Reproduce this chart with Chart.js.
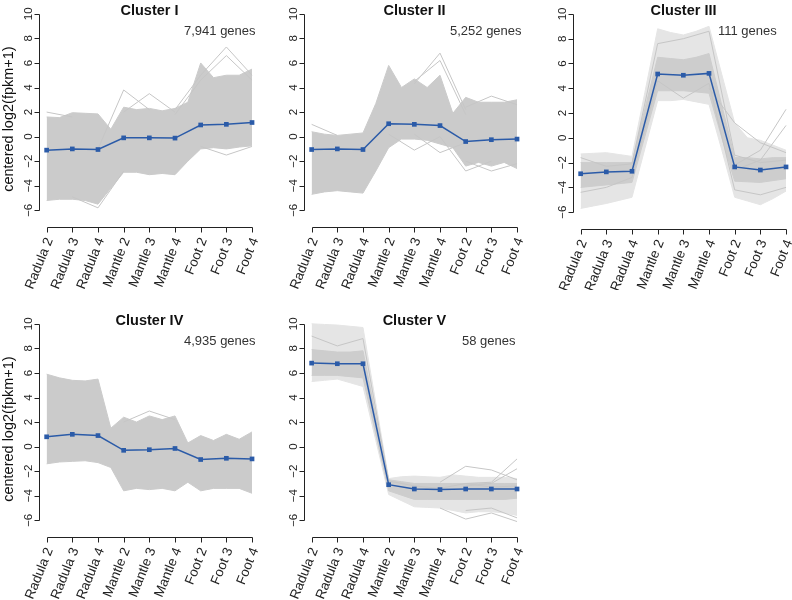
<!doctype html>
<html lang="en">
<head>
<meta charset="UTF-8" />
<title>Cluster expression profiles</title>
<style>
  html, body { margin: 0; padding: 0; background: #fff; overflow: hidden; }
  #wrap { position: relative; width: 792px; height: 600px; overflow: hidden; }
  #wrap canvas { position: absolute; }
</style>
</head>
<body>
<div id="wrap"></div>
<script src="https://cdn.jsdelivr.net/npm/chart.js"></script>
<script>
  // categories and ticks
  const tissues = ['Radula 2', 'Radula 3', 'Radula 4', 'Mantle 2', 'Mantle 3', 'Mantle 4', 'Foot 2', 'Foot 3', 'Foot 4'];
  const yTicks = [-6, -4, -2, 0, 2, 4, 6, 8, 10];
  // band outline is read at each sample and halfway between samples
  const bandX = [1, 1.5, 2, 2.5, 3, 3.5, 4, 4.5, 5, 5.5, 6, 6.5, 7, 7.5, 8, 8.5, 9];

  // Cluster I
  const c1Mean = [-1.1, -1.0, -1.05, -0.1, -0.1, -0.12, 0.95, 1.0, 1.15];
  const c1Hi = [1.6, 1.55, 1.95, 1.9, 1.85, 0.6, 2.4, 2.2, 2.3, 2.1, 2.3, 2.8, 6.0, 4.8, 5.0, 5.0, 5.5];
  const c1Lo = [-5.2, -5.1, -5.1, -5.2, -5.5, -4.2, -2.9, -2.9, -3.1, -3.0, -3.1, -2.0, -1.0, -0.9, -1.0, -0.85, -0.75];
  const c1Spikes = [
    [2.0, 1.6, null, null, null, null, null, null, null],
    [null, null, -1.0, 3.8, 2.2, null, null, null, null],
    [null, null, null, 2.0, 3.5, 2.0, null, null, null],
    [null, null, null, null, null, 2.2, 5.0, 7.3, 5.0],
    [null, null, null, null, null, 1.8, 4.6, 6.6, 4.6],
    [null, -4.9, -5.8, -2.8, null, null, null, null, null],
    [null, null, null, null, null, null, -0.8, -1.5, -0.8]
  ];

  // Cluster II
  const c2Mean = [-1.05, -1.0, -1.05, 1.05, 1.0, 0.9, -0.4, -0.25, -0.2];
  const c2Hi = [0.4, 0.2, 0.1, 0.2, 0.3, 2.7, 5.8, 4.0, 4.7, 4.0, 5.0, 1.9, 3.2, 2.8, 2.8, 2.8, 3.0];
  const c2Lo = [-4.7, -4.5, -4.4, -4.5, -4.6, -2.8, -0.9, -0.2, -0.2, -0.3, -0.6, -0.9, -2.4, -2.1, -2.4, -2.1, -2.6];
  const c2Spikes = [
    [1.0, 0.1, null, null, null, null, null, null, null],
    [null, null, null, null, 4.3, 6.8, 2.2, null, null],
    [null, null, null, null, 4.5, 6.2, 1.8, null, null],
    [null, null, null, 0.2, -1.1, 0.0, null, null, null],
    [null, null, null, null, 0.2, -1.3, -0.5, null, null],
    [null, null, null, null, null, 0.0, -2.8, -2.0, null],
    [null, null, null, null, null, null, -2.0, -2.8, -2.2],
    [null, null, null, null, null, null, 2.4, 3.3, 2.6]
  ];

  // Cluster III
  const c3Mean = [-2.9, -2.75, -2.7, 5.15, 5.05, 5.2, -2.35, -2.6, -2.35];
  const c3Hi = [-1.3, -1.25, -1.2, -1.35, -1.5, 3.65, 8.8, 8.5, 8.3, 8.6, 9.0, 5.1, 1.2, 0.0, -0.2, -0.6, -1.0];
  const c3Lo = [-5.7, -5.5, -5.3, -5.05, -4.8, -0.9, 3.0, 3.0, 3.1, 2.9, 2.7, -1.0, -4.8, -5.1, -5.4, -4.9, -4.3];
  const c3CoreHi = [-2.0, -2.0, -2.0, -2.0, -2.0, 2.3, 6.5, 6.4, 6.3, 6.5, 6.8, 2.6, -1.6, -1.6, -1.7, -1.6, -1.6];
  const c3CoreLo = [-4.0, -3.9, -3.8, -3.7, -3.6, 0.1, 3.8, 3.8, 3.8, 3.7, 3.6, 0.0, -3.5, -3.55, -3.6, -3.45, -3.3];
  const c3Spikes = [
    [null, null, null, null, null, null, -2.2, -1.0, 2.3],
    [null, null, null, null, null, null, -2.6, -1.8, 1.0],
    [null, null, null, null, null, 4.0, 1.2, -0.4, -1.2],
    [-1.6, -2.3, -2.1, 7.6, 8.0, 8.6, -1.4, -2.0, -1.8],
    [-4.4, -4.0, -3.2, 4.6, 3.2, 4.4, -4.2, -4.6, -4.0]
  ];

  // Cluster IV
  const c4Mean = [0.8, 1.0, 0.9, -0.3, -0.25, -0.15, -1.05, -0.95, -1.0];
  const c4Hi = [5.9, 5.6, 5.4, 5.35, 5.5, 1.5, 2.4, 2.0, 2.5, 2.2, 2.5, 0.3, 0.9, 0.5, 1.0, 0.6, 1.2];
  const c4Lo = [-1.4, -1.25, -1.2, -1.15, -1.3, -1.7, -3.6, -3.4, -3.5, -3.4, -3.6, -2.9, -3.6, -3.4, -3.4, -3.4, -3.8];
  const c4Spikes = [
    [null, null, null, 2.0, 2.9, 2.2, null, null, null]
  ];

  // Cluster V
  const c5Mean = [6.8, 6.75, 6.75, -3.1, -3.45, -3.5, -3.45, -3.45, -3.45];
  const c5Hi = [10.0, 9.95, 9.9, 9.8, 9.7, 3.55, -2.6, -2.45, -2.4, -2.45, -2.5, -2.3, -2.4, -2.5, -2.5, -2.5, -2.6];
  const c5Lo = [5.3, 5.4, 5.5, 5.2, 4.9, 0.5, -3.9, -4.4, -4.9, -4.95, -5.0, -5.2, -5.4, -5.3, -5.3, -5.4, -5.6];
  const c5CoreHi = [7.9, 7.8, 7.7, 7.7, 7.8, 2.5, -2.7, -2.85, -3.0, -3.0, -3.0, -3.0, -3.0, -3.0, -3.0, -3.0, -3.0];
  const c5CoreLo = [5.8, 5.8, 5.8, 5.7, 5.6, 1.0, -3.6, -3.95, -4.3, -4.3, -4.3, -4.3, -4.3, -4.3, -4.3, -4.3, -4.2];
  const c5Spikes = [
    [null, null, null, null, null, -2.9, -1.6, -1.9, -2.7],
    [null, null, null, null, null, null, -3.0, -2.9, -1.0],
    [null, null, null, null, null, null, -3.2, -3.0, -1.8],
    [null, null, null, null, null, -5.0, -5.9, -5.4, -6.1],
    [null, null, null, null, null, null, -5.2, -5.0, -5.8],
    [9.0, 8.2, 8.8, -2.8, -3.2, -3.4, -3.0, -3.3, -3.2]
  ];

  const panels = [
    { title: 'Cluster I', genes: '7,941 genes', left: 0, top: 0, genesX: 184, yLabel: true,
      mean: c1Mean, hi: c1Hi, lo: c1Lo, spikes: c1Spikes },
    { title: 'Cluster II', genes: '5,252 genes', left: 265, top: 0, genesX: 185, yLabel: false,
      mean: c2Mean, hi: c2Hi, lo: c2Lo, spikes: c2Spikes },
    { title: 'Cluster III', genes: '111 genes', left: 534, top: 0, genesX: 184, yLabel: false, axisY: 230,
      mean: c3Mean, hi: c3Hi, lo: c3Lo, coreHi: c3CoreHi, coreLo: c3CoreLo, spikes: c3Spikes },
    { title: 'Cluster IV', genes: '4,935 genes', left: 0, top: 310, genesX: 184, yLabel: true,
      mean: c4Mean, hi: c4Hi, lo: c4Lo, spikes: c4Spikes },
    { title: 'Cluster V', genes: '58 genes', left: 265, top: 310, genesX: 197, yLabel: false,
      mean: c5Mean, hi: c5Hi, lo: c5Lo, coreHi: c5CoreHi, coreLo: c5CoreLo, spikes: c5Spikes }
  ];

  const W = 264, H = 290;
  const BLUE = '#2b5ba8';
  const FONT = '"Liberation Sans", Arial, Helvetica, sans-serif';

  // R-style detached axes, titles and labels
  const rAxes = {
    id: 'rAxes',
    afterDraw(chart) {
      const { ctx, chartArea: a, scales: { x, y } } = chart;
      const p = chart.options.plugins.rAxes;
      ctx.save();
      ctx.strokeStyle = '#222';
      ctx.fillStyle = '#222';
      ctx.lineWidth = 1;

      // y axis
      const ax = Math.round(a.left) + 0.5;
      const yTop = Math.round(y.getPixelForValue(yTicks[yTicks.length - 1])) + 0.5;
      const yBot = Math.round(y.getPixelForValue(yTicks[0])) + 0.5;
      ctx.beginPath();
      ctx.moveTo(ax, yTop);
      ctx.lineTo(ax, yBot);
      yTicks.forEach(v => {
        const py = Math.round(y.getPixelForValue(v)) + 0.5;
        ctx.moveTo(ax, py);
        ctx.lineTo(ax - 5, py);
      });
      ctx.stroke();
      ctx.font = '11.5px ' + FONT;
      ctx.textAlign = 'center';
      ctx.textBaseline = 'alphabetic';
      yTicks.forEach(v => {
        const py = y.getPixelForValue(v);
        ctx.save();
        ctx.translate(ax - 8, py);
        ctx.rotate(-Math.PI / 2);
        ctx.fillText(v < 0 ? '\u2212' + Math.abs(v) : String(v), 0, 0);
        ctx.restore();
      });

      // x axis
      const by = Math.round(a.bottom) - 0.5;
      const x0 = Math.round(x.getPixelForValue(1)) + 0.5;
      const x1 = Math.round(x.getPixelForValue(tissues.length)) + 0.5;
      ctx.beginPath();
      ctx.moveTo(x0, by);
      ctx.lineTo(x1, by);
      tissues.forEach((t, i) => {
        const px = Math.round(x.getPixelForValue(i + 1)) + 0.5;
        ctx.moveTo(px, by);
        ctx.lineTo(px, by + 5);
      });
      ctx.stroke();
      ctx.font = '13.5px ' + FONT;
      ctx.textAlign = 'right';
      ctx.textBaseline = 'middle';
      tissues.forEach((t, i) => {
        const px = x.getPixelForValue(i + 1);
        ctx.save();
        ctx.translate(px + 3, by + 11);
        ctx.rotate(-68 * Math.PI / 180);
        ctx.fillText(t, 0, 0);
        ctx.restore();
      });

      // title and gene count
      const y10 = y.getPixelForValue(10);
      ctx.fillStyle = '#111';
      ctx.font = 'bold 14.5px ' + FONT;
      ctx.textAlign = 'center';
      ctx.textBaseline = 'alphabetic';
      ctx.fillText(p.title, (a.left + a.right) / 2, y10 + 1);
      ctx.fillStyle = '#333';
      ctx.font = '13px ' + FONT;
      ctx.textAlign = 'left';
      ctx.fillText(p.genes, p.genesX, y10 + 20.7);

      if (p.yLabel) {
        ctx.fillStyle = '#111';
        ctx.font = '14.5px ' + FONT;
        ctx.textAlign = 'center';
        ctx.save();
        ctx.translate(13, y.getPixelForValue(2) + 7);
        ctx.rotate(-Math.PI / 2);
        ctx.fillText('centered log2(fpkm+1)', 0, 0);
        ctx.restore();
      }
      ctx.restore();
    }
  };

  const pts = (xs, ys) => ys.map((v, i) => ({ x: xs[i], y: v }));
  const catX = tissues.map((t, i) => i + 1);

  function bandPair(hi, lo, color, order) {
    return [
      { data: pts(bandX, hi), borderColor: color, backgroundColor: color, borderWidth: 1,
        pointRadius: 0, fill: '+1', order: order },
      { data: pts(bandX, lo), borderColor: color, backgroundColor: color, borderWidth: 1,
        pointRadius: 0, fill: false, order: order }
    ];
  }

  panels.forEach(p => {
    const cv = document.createElement('canvas');
    cv.width = W;
    cv.height = H;
    cv.style.left = p.left + 'px';
    cv.style.top = p.top + 'px';
    document.getElementById('wrap').appendChild(cv);

    const sparse = !!p.coreHi;
    const datasets = [
      { data: pts(catX, p.mean), borderColor: BLUE, backgroundColor: BLUE, borderWidth: 1.5,
        pointStyle: 'rect', pointRadius: 3.3, pointBorderWidth: 0, fill: false, order: 0 }
    ];
    p.spikes.forEach(s => {
      datasets.push({ data: pts(catX, s), borderColor: '#c6c6c6', borderWidth: 1, pointRadius: 0,
        fill: false, spanGaps: false, order: 1 });
    });
    if (sparse) {
      datasets.push(...bandPair(p.coreHi, p.coreLo, '#cdcdcd', 2));
      datasets.push(...bandPair(p.hi, p.lo, '#e5e5e5', 3));
    } else {
      datasets.push(...bandPair(p.hi, p.lo, '#cbcbcb', 2));
    }

    const axisY = p.axisY || 228;
    new Chart(cv.getContext('2d'), {
      type: 'line',
      data: { datasets },
      plugins: [rAxes],
      options: {
        responsive: false,
        animation: false,
        devicePixelRatio: 1,
        events: [],
        layout: { padding: { left: 38.93, right: W - 262.03, top: 0, bottom: H - axisY } },
        elements: { line: { tension: 0 } },
        scales: {
          x: { type: 'linear', min: 0.7, max: 9.31, display: false },
          y: { type: 'linear', min: -7.44, max: 10.8, display: false }
        },
        plugins: {
          legend: { display: false },
          tooltip: { enabled: false },
          rAxes: { title: p.title, genes: p.genes, genesX: p.genesX, yLabel: p.yLabel }
        }
      }
    });
  });
</script>
</body>
</html>
